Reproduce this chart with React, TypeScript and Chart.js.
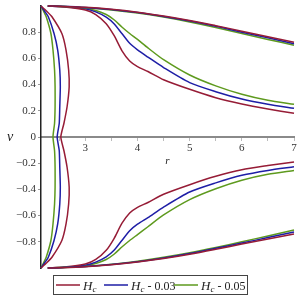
import React, { useEffect, useRef } from "react";
import { Chart, registerables } from "chart.js";

Chart.register(...registerables);

// ---------- data ----------
const RED = "#961c36";
const BLUE = "#1e1ea6";
const GREEN = "#5e9a1e";

const xTickValues = [2.5, 3, 3.5, 4, 4.5, 5, 5.5, 6, 6.5, 7];
const yTickValues = [-0.8, -0.6, -0.4, -0.2, 0, 0.2, 0.4, 0.6, 0.8];

// slow-decay branches
const rA = [2.28, 2.5, 3, 3.5, 4, 4.5, 5, 5.5, 6, 6.5, 7];
const aRedUp = [1.0, 0.998, 0.99, 0.975, 0.953, 0.924, 0.89, 0.85, 0.808, 0.765, 0.723];
const aBlueUp = [1.0, 0.998, 0.989, 0.973, 0.95, 0.92, 0.885, 0.845, 0.8, 0.757, 0.712];
const aGreenUp = [1.0, 0.997, 0.987, 0.97, 0.946, 0.915, 0.878, 0.836, 0.79, 0.745, 0.7];
const aRedDn = [-1.0, -0.998, -0.99, -0.976, -0.955, -0.928, -0.895, -0.857, -0.817, -0.778, -0.74];
const aBlueDn = [-1.0, -0.998, -0.989, -0.974, -0.952, -0.924, -0.89, -0.85, -0.81, -0.768, -0.725];
const aGreenDn = [-1.0, -0.997, -0.988, -0.972, -0.948, -0.918, -0.883, -0.843, -0.8, -0.755, -0.71];

// shoulder branches
const rB = [2.28, 2.6, 3.0, 3.2, 3.4, 3.55, 3.7, 3.85, 4.0, 4.2, 4.5, 5, 5.5, 6, 6.5, 7];
const bRedUp = [1.0, 0.993, 0.97, 0.935, 0.865, 0.775, 0.66, 0.58, 0.537, 0.5, 0.437, 0.364, 0.3, 0.252, 0.214, 0.181];
const bBlueUp = [1.0, 0.995, 0.978, 0.955, 0.915, 0.865, 0.79, 0.715, 0.665, 0.61, 0.53, 0.415, 0.346, 0.29, 0.25, 0.219];
const bGreenUp = [1.0, 0.996, 0.982, 0.965, 0.935, 0.895, 0.84, 0.79, 0.745, 0.68, 0.59, 0.473, 0.39, 0.326, 0.28, 0.25];
const bRedDn = [-1.0, -0.993, -0.97, -0.935, -0.865, -0.775, -0.66, -0.58, -0.537, -0.5, -0.437, -0.364, -0.3, -0.25, -0.218, -0.19];
const bBlueDn = [-1.0, -0.995, -0.978, -0.955, -0.915, -0.865, -0.79, -0.715, -0.665, -0.615, -0.535, -0.42, -0.35, -0.292, -0.255, -0.228];
const bGreenDn = [-1.0, -0.996, -0.982, -0.965, -0.935, -0.895, -0.84, -0.79, -0.745, -0.685, -0.595, -0.478, -0.395, -0.33, -0.285, -0.256];

// left loops (r as a function of v)
const vC = [1.0, 0.96, 0.918, 0.79, 0.664, 0.511, 0.384, 0.231, 0.105, 0, -0.105, -0.231, -0.384, -0.511, -0.664, -0.79, -0.918, -0.96, -1.0];
const cRed = [2.15, 2.26, 2.36, 2.55, 2.63, 2.68, 2.69, 2.65, 2.59, 2.53, 2.59, 2.65, 2.69, 2.68, 2.63, 2.55, 2.36, 2.26, 2.15];
const cBlue = [2.15, 2.22, 2.29, 2.4, 2.47, 2.51, 2.52, 2.51, 2.5, 2.46, 2.5, 2.51, 2.52, 2.51, 2.47, 2.4, 2.29, 2.22, 2.15];
const cGreen = [2.15, 2.2, 2.25, 2.34, 2.38, 2.41, 2.42, 2.42, 2.41, 2.38, 2.41, 2.42, 2.42, 2.41, 2.38, 2.34, 2.25, 2.2, 2.15];

const legendItems = [
  { color: RED, suffix: "" },
  { color: BLUE, suffix: " - 0.03" },
  { color: GREEN, suffix: " - 0.05" },
];

const SERIF = '"Liberation Serif", "DejaVu Serif", serif';

function series(xs: number[], ys: number[], color: string, tension: number) {
  return {
    data: xs.map((x, i) => ({ x, y: ys[i] })),
    borderColor: color,
    backgroundColor: color,
    borderWidth: 1.5,
    pointRadius: 0,
    showLine: true,
    tension,
    fill: false,
    clip: false as any,
  };
}

const annotatePlugin = {
  id: "annotate",
  afterDraw(chart: any) {
    const ctx = chart.ctx;
    const area = chart.chartArea;
    const yS = chart.scales.y;
    ctx.save();
    // axis labels
    ctx.fillStyle = "#222";
    ctx.textAlign = "center";
    ctx.textBaseline = "middle";
    ctx.font = `italic 14px ${SERIF}`;
    ctx.fillText("v", 10, yS.getPixelForValue(0));
    ctx.font = `italic 11px ${SERIF}`;
    ctx.fillText("r", (area.left + area.right) / 2, yS.getPixelForValue(0) + 24);

    // legend
    const bx = 53, by = 275, bw = 194, bh = 19;
    ctx.strokeStyle = "#444";
    ctx.lineWidth = 1;
    ctx.strokeRect(bx + 0.5, by + 0.5, bw, bh);
    const cy = by + bh / 2 + 0.5;
    const starts = [56, 104, 174];
    legendItems.forEach((it, i) => {
      const x0 = starts[i];
      ctx.strokeStyle = it.color;
      ctx.lineWidth = 1.5;
      ctx.beginPath();
      ctx.moveTo(x0, cy);
      ctx.lineTo(x0 + 24, cy);
      ctx.stroke();
      let tx = x0 + 27;
      ctx.fillStyle = "#222";
      ctx.textAlign = "left";
      ctx.textBaseline = "alphabetic";
      ctx.font = `italic 13px ${SERIF}`;
      ctx.fillText("H", tx, cy + 4.5);
      tx += ctx.measureText("H").width;
      ctx.font = `italic 9px ${SERIF}`;
      ctx.fillText("c", tx, cy + 7);
      tx += ctx.measureText("c").width;
      if (it.suffix) {
        ctx.font = `12px ${SERIF}`;
        ctx.fillText(it.suffix, tx, cy + 4.5);
      }
    });
    ctx.restore();
  },
};

export default function App() {
  const ref = useRef<HTMLCanvasElement>(null);
  useEffect(() => {
    if (!ref.current) return;
    const datasets = [
      series(rA, aRedUp, RED, 0.3),
      series(rA, aBlueUp, BLUE, 0.3),
      series(rA, aGreenUp, GREEN, 0.3),
      series(rA, aRedDn, RED, 0.3),
      series(rA, aBlueDn, BLUE, 0.3),
      series(rA, aGreenDn, GREEN, 0.3),
      series(rB, bRedUp, RED, 0.25),
      series(rB, bBlueUp, BLUE, 0.25),
      series(rB, bGreenUp, GREEN, 0.25),
      series(rB, bRedDn, RED, 0.25),
      series(rB, bBlueDn, BLUE, 0.25),
      series(rB, bGreenDn, GREEN, 0.25),
      series(cRed, vC, RED, 0.2),
      series(cBlue, vC, BLUE, 0.2),
      series(cGreen, vC, GREEN, 0.2),
    ];
    const chart = new Chart(ref.current, {
      type: "scatter",
      data: { datasets: datasets as any },
      options: {
        responsive: false,
        animation: false,
        devicePixelRatio: 1,
        layout: { padding: { left: 0, right: 7, top: 6, bottom: 33 } },
        plugins: { legend: { display: false }, tooltip: { enabled: false } },
        scales: {
          x: {
            type: "linear",
            min: 2.15,
            max: 7,
            position: { y: 0 } as any,
            afterBuildTicks: (s: any) => {
              s.ticks = xTickValues.map((value) => ({ value }));
            },
            afterFit: (s: any) => {
              s.paddingLeft = 0;
              s.paddingRight = 0;
            },
            ticks: {
              autoSkip: false,
              maxRotation: 0,
              padding: 2,
              color: "#333",
              font: { family: SERIF, size: 11 },
              callback: (v: any) => (Number.isInteger(v) ? String(v) : ""),
            },
            grid: { drawOnChartArea: false, drawTicks: true, tickLength: 3, tickColor: "#bbb" },
            border: { color: "#8a8a8a", width: 2 },
          },
          y: {
            type: "linear",
            min: -1,
            max: 1,
            position: "left",
            afterBuildTicks: (s: any) => {
              s.ticks = yTickValues.map((value) => ({ value }));
            },
            afterFit: (s: any) => {
              s.width = 41;
              s.paddingTop = 0;
              s.paddingBottom = 0;
            },
            ticks: {
              autoSkip: false,
              padding: 2,
              color: "#333",
              font: { family: SERIF, size: 11 },
              callback: (v: any) => {
                const n = Number(v);
                if (Math.abs(n) < 1e-9) return "0";
                return n < 0 ? "\u2212" + Math.abs(n).toFixed(1) : n.toFixed(1);
              },
            },
            grid: { drawOnChartArea: false, drawTicks: true, tickLength: 3, tickColor: "#999" },
            border: { color: "#222", width: 1.5 },
          },
        },
      },
      plugins: [annotatePlugin],
    });
    return () => chart.destroy();
  }, []);
  return (
    <div style={{ position: "fixed", left: 0, top: 0, width: 301, height: 301, background: "#fff" }}>
      <canvas ref={ref} width={301} height={301} style={{ display: "block", width: 301, height: 301 }} />
    </div>
  );
}
